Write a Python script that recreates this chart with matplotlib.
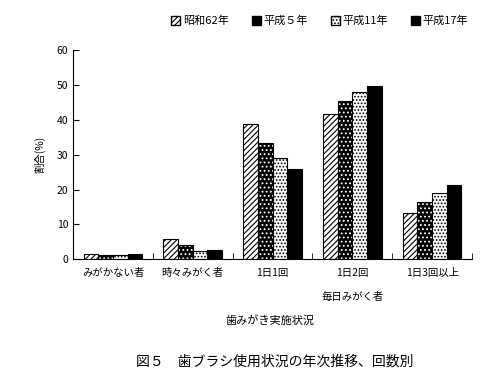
import numpy as np
import matplotlib
matplotlib.use("Agg")
import matplotlib.pyplot as plt
from matplotlib.patches import Patch

plt.rcParams["font.family"] = ["Noto Sans CJK JP", "DejaVu Sans"]
plt.rcParams["hatch.linewidth"] = 0.8

categories = ["みがかない者", "時々みがく者", "1日1回", "1日2回", "1日3回以上"]
series = ["昭和62年", "平成５年", "平成11年", "平成17年"]
s62 = [1.4, 5.7, 38.8, 41.7, 13.2]
h05 = [1.1, 4.2, 33.5, 45.4, 16.5]
h11 = [1.3, 2.4, 29.1, 48.0, 19.1]
h17 = [1.4, 2.6, 25.9, 49.6, 21.2]

# (facecolor, hatch colour, hatch)
styles = [
    ("white", "black", "//////"),
    ("black", "white", "...."),
    ("white", "black", "....."),
    ("black", "black", None),
]

fig = plt.figure(figsize=(5, 3.83), dpi=100)
ax = fig.add_axes([0.146, 0.323, 0.798, 0.546])

x = np.arange(len(categories))
w = 0.183
for i, vals in enumerate([s62, h05, h11, h17]):
    fc, hc, h = styles[i]
    pos = x + (i - 1.5) * w
    ax.bar(pos, vals, w, facecolor=fc, edgecolor=hc, hatch=h, linewidth=0)
    ax.bar(pos, vals, w, facecolor="none", edgecolor="black", linewidth=0.8)

ax.set_xlim(-0.5, len(categories) - 0.5)
ax.set_ylim(0, 60)
ax.set_yticks(range(0, 61, 10))
ax.set_xticks(x)
ax.set_xticklabels(categories, fontsize=7.5)
ax.tick_params(axis="x", length=0, pad=6)
ax.set_xticks(np.arange(-0.5, len(categories), 1), minor=True)
ax.tick_params(axis="x", which="minor", direction="in", length=4)
ax.tick_params(axis="y", direction="in", length=4, labelsize=7.5)
ax.spines["top"].set_visible(False)
ax.spines["right"].set_visible(False)
ax.set_ylabel("割合(%)", fontsize=7.5, labelpad=8)

ax.text(3, -10.7, "毎日みがく者", ha="center", va="center", fontsize=7.5)
fig.text(0.54, 0.164, "歯みがき実施状況", ha="center", va="center", fontsize=8)
fig.text(0.55, 0.055, "図５　歯ブラシ使用状況の年次推移、回数別", ha="center",
         va="center", fontsize=10)

handles = []
for (fc, hc, h), lab in zip(styles, series):
    handles.append(Patch(facecolor=fc, edgecolor="black", hatch=h, label=lab))
leg = fig.legend(handles=handles, loc="center", bbox_to_anchor=(0.64, 0.945),
                 ncol=4, frameon=False, fontsize=8, handlelength=0.8,
                 handleheight=0.8, handletextpad=0.3, columnspacing=2.0)

fig.savefig("out.png", dpi=100)
